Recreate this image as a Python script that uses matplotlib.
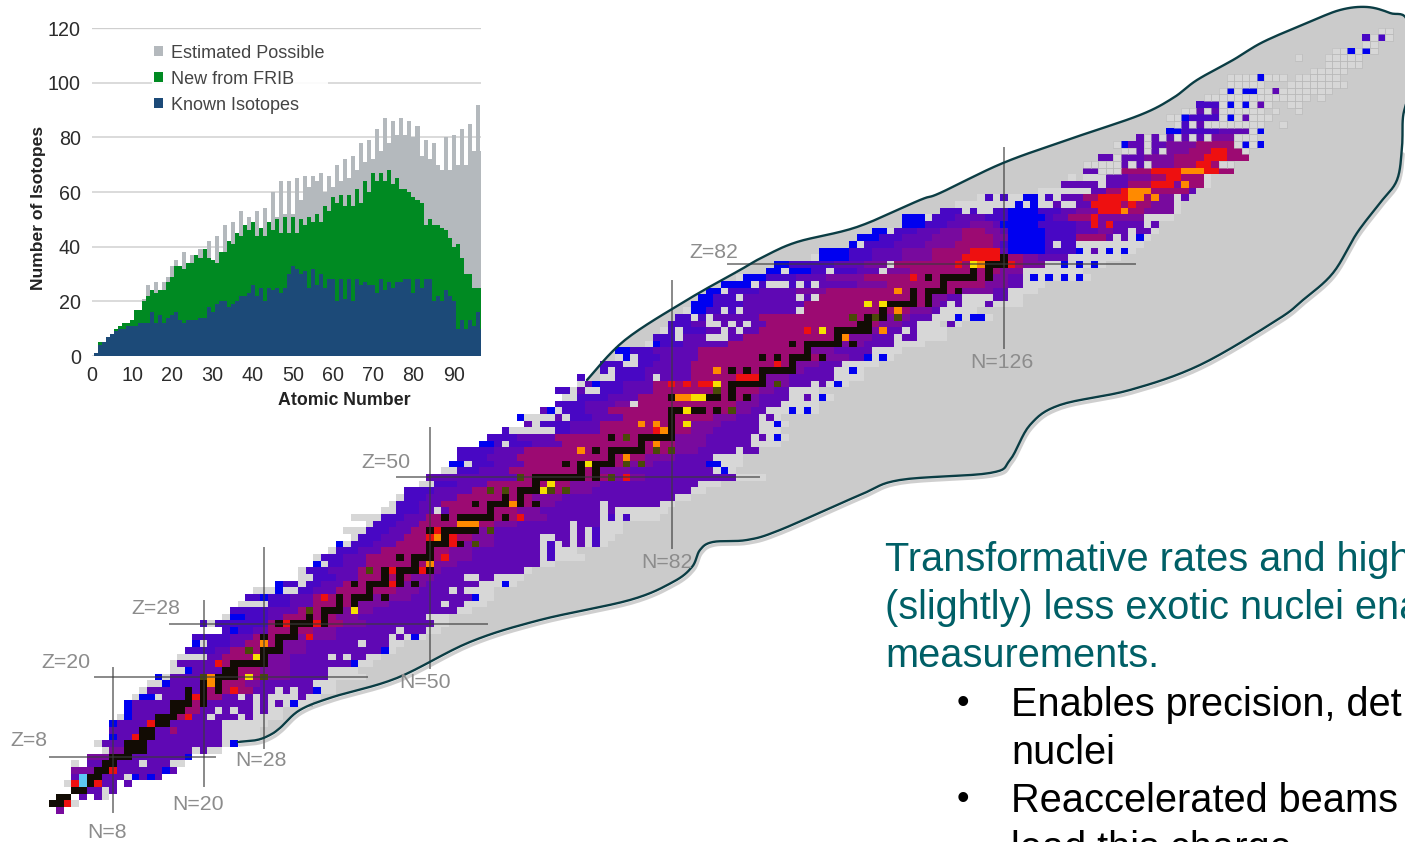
import numpy as np
import matplotlib
matplotlib.use("Agg")
import matplotlib.pyplot as plt
from matplotlib.colors import ListedColormap
from matplotlib.patches import Polygon, Rectangle

plt.rcParams['font.family'] = ['Liberation Sans', 'DejaVu Sans']

# ---------- inset data (isotopes per atomic number Z=1..97) ----------
Z_VALUES = list(range(1, 98))
KNOWN = [1,4,5,7,8,9,10,10,11,11,11,12,12,12,16,12,15,12,14,15,16,13,12,13,13,13,14,14,18,16,19,20,20,18,19,20,22,22,23,26,
         22,25,20,25,24,25,23,25,30,33,32,30,31,25,32,26,30,25,28,28,20,28,21,28,20,28,26,27,26,26,23,28,24,27,25,27,27,28,28,23,
         28,25,28,28,20,22,20,24,22,20,10,13,10,13,11,16,10]
FRIB = [1,5,5,6,8,10,11,12,12,13,17,17,20,22,24,23,24,24,27,29,33,33,32,34,34,37,36,39,36,35,34,38,38,42,41,45,44,48,46,49,
        44,47,44,49,46,50,45,51,45,51,45,50,48,51,49,52,49,55,53,58,56,59,55,59,55,61,56,64,60,67,64,67,64,68,63,65,61,61,60,58,
        57,56,48,50,48,48,47,46,43,40,41,36,30,30,25,25,25]
POSSIBLE = [1,5,5,6,8,10,11,12,12,13,17,17,21,26,24,27,24,27,29,33,35,33,38,34,37,37,39,36,42,35,44,38,48,42,49,45,53,48,51,49,
            53,47,54,49,60,51,64,52,64,52,65,57,66,62,66,64,67,60,66,62,70,64,72,65,73,68,78,71,79,72,83,75,87,78,86,81,87,81,86,80,
            84,73,79,72,78,70,68,80,68,81,70,83,70,85,75,92,75]
LEGEND = ["Estimated Possible", "New from FRIB", "Known Isotopes"]
INSET_XTICKS = [0,10,20,30,40,50,60,70,80,90]
INSET_YTICKS = [0,20,40,60,80,100,120]

# ---------- chart of nuclides: rows (Z, first N, colour runs) ----------
ROWS = [
(0,1,"p1"),(1,0,"v2 r1 g1"),(2,1,"v2 .1 v1 .1 v1 g1"),(3,3,"v4 g1 v1"),
(4,2,"g1 r1 a1 v1 r1 v2 .1 v1"),(5,3,"v1 a1 v5 g1 b1 v1 b1 v1"),(6,3,"p5 r1 v6 b1 v1"),
(7,3,"g1 .1 v7 g1 v3 g2"),(8,5,"p3 v10 b1"),(9,7,"g1 p2 v9 g1 v1 g2"),(10,6,"g1 v16 g1 b1"),
(11,8,"b1 v2 r1 v11 g5"),(12,8,"v8 m1 v6 g5"),(13,8,"b1 v4 r1 v9 g6"),
(14,9,"g1 b1 v6 m1 r1 v2 g1 v3 g1 v1 g4"),(15,10,"b1 v7 m2 v2 g1 v1 g1 v2 g1 v1 g2"),
(16,10,"b1 v8 m2 v6 g1 v1 g1 v1 g1 b1 g2"),(17,11,"g1 b2 g1 v4 r1 m3 v2 g1 v1 g1 v1 g4 v1 g2"),
(18,12,"g1 v7 m4 r1 m2 v3 g1 v1 g1 v2 b1 g2"),(19,13,"g2 b1 v5 o1 v1 m3 p2 v7 g3"),
(20,14,"b1 g1 v4 v1 o1 v1 m5 p4 v5 g5"),(21,16,"g2 b1 v4 m5 p4 v5 g4"),
(22,16,"g1 v5 r1 m5 p4 v8 b1 g2"),(23,17,"g4 v2 m6 p3 v5 g1 v1 g1 v2 g2"),
(24,18,"i4 v2 m7 p3 v10 b1 g1"),(25,19,"b1 g1 i3 v2 m5 p3 v7 g1 v3 g2"),
(26,19,"i5 v3 m5 p2 r1 p3 v7 g1 v1 g1 b1 g1"),(27,23,"i1 b1 i2 v2 m6 p3 v8 g1 v3 g2"),
(28,20,"i1 g1 i7 m10 p3 v9 g2"),(29,23,"g1 b2 i3 v2 m7 p3 v9 g3"),
(30,24,"i5 v4 m6 p4 v11 g2"),(31,25,"g4 i3 v3 m6 p4 v7 g1 v2 g3"),
(32,26,"i2 b1 i3 v3 m8 p5 v8 b1 g2"),(33,27,"g3 b1 g2 i2 v3 m8 p3 v4 g1 v1 g4"),
(34,30,"b1 i2 g1 i2 v3 m7 p4 v7 g3 b1 g1"),(35,33,"g2 i3 v3 m7 p3 v4 g2 v2 g4"),
(36,33,"g1 i3 v4 m8 p3 v11 g1"),(37,35,"b1 g1 i2 v3 m9 p3 v11 g2"),
(38,35,"g1 i3 v3 m11 p3 v9 g1 i1 g4"),(39,37,"g1 i3 v3 m9 p3 v9 g1 i1 g3"),
(40,38,"b1 g1 i3 v3 m9 p4 v6 g1 i1 g1 v1 g1 v1 g1 i1 g1"),
(41,40,"g1 i3 v3 m9 p3 v6 g2 v2 g1 v1 g1 i1 g2"),(42,39,"g3 i3 v3 m8 p3 v10 g1 v1 g1 i1 g3"),
(43,42,"g1 i3 v3 m5 r3 m2 p3 v7 g1 v3 g3"),(44,40,"g4 i3 v3 m13 p3 v7 g1 i1 g1 i1 g4"),
(45,44,"g2 i3 v2 g1 v1 m9 p3 v8 g1 v1 g7"),(46,45,"g1 i3 v3 m12 p3 v6 g1 v7 g2"),
(47,46,"g1 i3 v4 m10 p4 v15 g2"),(48,47,"i4 v5 m12 p4 v13 g2"),(49,49,"g2 i3 v4 m11 p4 v13 g3"),
(50,50,"v12 m13 p4 v12 g4"),(51,52,"g2 i3 v4 m12 p4 v11 g1 b1 g1"),(52,53,"b2 g1 i3 v4 m13 p4 v7 b2 g3"),
(53,54,"i4 v4 m14 r1 m2 p4 v5 g4"),(54,54,"i5 v4 m19 p4 v5 g1 v2"),(55,57,"b2 i1 g1 i3 v4 m12 r1 m2 p4 v6 g4"),
(56,58,"i4 v5 m16 p4 v6 g1 v1 g1 b1 g1"),(57,60,"i1 g6 i2 v4 m7 r2 m3 p3 v6 g3"),
(58,63,"v1 g1 i4 v4 m12 p4 v5 g2 b1 g1"),(59,62,"b1 g4 v1 g1 i3 v4 m12 p3 v3 g1 v1 g1"),
(60,65,"v1 b1 g1 i3 v3 m16 p3 v2 g3 b1 g1 b1 g1"),(61,67,"i4 v4 p2 g1 m13 p3 v3 g5"),
(62,68,"g2 i4 v4 m14 p2 v4 g2 v1 g1 b1 g1"),(63,67,"i2 g1 v1 g2 i3 v4 m14 p2 v2 g4"),
(64,70,"g1 v1 b1 i3 v4 m7 r2 m6 p3 v3 g1 v1 g1 b1 g1"),(65,70,"i1 .2 g2 i4 v1 g1 v4 m10 p3 v6 g4"),
(66,73,"i1 g1 i4 v6 m12 p3 v4 g2 b1 g1"),(67,73,"i3 g2 i2 v5 m14 p3 v3 g5"),
(68,75,"g1 b1 g1 i3 v5 m17 p3 v2 b1 g1 b1 g1"),(69,75,"b2 i3 v6 m15 p3 v5 g4"),
(70,79,"g1 b1 i3 v6 m15 p3 v4 g4"),(71,80,"i3 g1 v3 g3 v2 m14 p3 v3 g1 v2 g4"),
(72,81,"g1 i1 g1 i3 v2 g1 v1 g1 v2 m14 p3 v2 g1 v1 g4"),(73,82,"i3 v2 g2 v1 g1 v1 g1 v2 m15 p3 v2 g3 .1 v1 g1"),
(74,83,"i2 g1 i1 g1 v6 m17 p3 v3 g3 b1 g1 b2 g1"),(75,84,"g1 b2 i2 g1 i1 g1 v7 g1 m14 p3 v1 g5"),
(76,85,"b3 i4 v8 m16 p2 v1 g1 v1 g3 v1 g4"),(77,86,"b2 i3 g1 v7 g1 v1 g1 m14 p3 v2 g4 v2 g2"),
(78,87,"b2 g1 i4 v5 p4 m18 p4 v2 g4"),(79,89,"b4 g1 i1 g3 i1 g1 i1 g1 v5 p4 m13 p3 v2 g3"),
(80,91,"g1 b3 i4 v4 p5 m12 m5 p2 v2 g1 b1 g1 b1 g1 b1 g1 b1 g1"),
(81,95,"b2 g1 b3 i2 g1 i3 v3 g1 p3 m12 p3 g8"),
(82,96,"b2 i6 v4 p3 g1 m8 r1 m2 r1 m3 r1 m1 p3 g2 b1 g1 b1 g1 b1 g1"),
(83,101,"g1 b4 i3 v4 p4 m4 r5 m3 p2 v4 g7"),
(84,102,"b4 i3 v4 p4 m5 r4 v1 b5 i4 b1 g1 v1 g1 b1 g1 b1 g1"),
(85,106,"b1 g1 i4 v4 p4 m5 p1 i1 b5 i1 g1 i2 g9"),
(86,107,"b3 i3 v4 p4 m4 p2 b5 i3 i1 m4 v1 g1 v1 g1 b1 g1"),
(87,109,"b2 g1 i3 v3 p3 m3 p2 v1 b5 i3 i1 v3 p2 v2 g1 v2 g1"),
(88,113,"b3 i3 v3 p3 v1 b5 i4 i1 v2 r1 p1 r1 v4 g1 v1"),
(89,113,"b3 g1 i3 v4 i3 b5 i1 v2 m3 r1 p6 g4"),
(90,118,"i3 g1 i1 g2 i2 b4 i3 v2 p3 r3 o1 m2 p4 g1"),
(91,120,"g8 b1 g1 b1 g2 v1 g2 v2 r4 m1 r1 m2 p3 g1"),
(92,123,"g1 i1 g1 i1 g2 b2 g1 i1 g1 v3 m2 r4 o2 m1 o1 p2 g1 v1"),
(93,131,"g7 v2 m2 r1 o3 m5 v1"),(94,134,"v5 g1 v3 m3 r3 p1 o1 m2 g1"),
(95,135,"g1 .1 g3 v3 p3 m2 r2 m3 g1"),(96,137,"v2 g3 m4 r4 o3 r2 m2"),
(97,137,"g5 v1 g1 v1 g1 p3 m3 r2 m1 g2"),(98,139,"v2 g1 v3 p4 m4 r3 m3"),
(99,142,"g2 v1 g1 v1 g1 p3 m3 r2 m2 g1"),(100,141,"g1 b1 v2 g1 v2 p4 m5 g1 b1 g1 b1"),
(101,144,"v1 g1 v1 g1 v1 g1 v1 g1 v1 g1 p3 g3"),(102,148,"b2 i5 v3 v1 g1 b1"),
(103,149,"g1 i1 g1 v1 g8 .2 g1"),(104,148,"g2 b1 i4 g1 b1 g1 v1 g3"),
(105,150,"g2 v1 g1 v1 g6 .1 g1 .2 g1"),(106,152,"i3 g1 b1 g1 b1 g1 v1 g1 .2 g2"),
(107,153,"g14 .1 g1"),(108,155,"g1 b1 g1 b2 g2 v1 g7"),(109,156,"g5 .3 g8"),
(110,156,"g4 b1 g3 .1 g6"),(111,167,"g5"),(112,169,"g5"),(113,165,"g1 .3 g5"),
(114,170,"g2 b1 g1 b1 g1"),(115,174,"g2"),(116,174,"i1 g1 i1 g1"),(117,176,"g2"),
]

STABLE = {1:[0,1],2:[1,2],3:[3,4],4:[5],5:[5,6],6:[6,7],7:[7,8],8:[8,9,10],9:[10,11,12],10:[10,11,12],11:[12,13],12:[12,13],
13:[14,15],14:[14,15,16],15:[16,17],16:[16,17,18,20],17:[18,20],18:[18,20,22],19:[20,21,22],20:[20,22,23,24,26,28],21:[23,24],
22:[24,25,26,27,28],23:[27,28],24:[26,28,29,30],25:[30],26:[28,30,31,32],27:[32],28:[30,31,32,33,34,36],29:[34,36],
30:[34,36,37,38,40],31:[38,40],32:[38,40,41,42,44],33:[42],34:[40,42,43,44,46,48],35:[44,46],36:[44,46,47,48,49,50],
37:[48,50],38:[46,48,49,50],39:[50],40:[50,51,52,54,56],41:[52],42:[50,52,53,54,55,56,58],44:[52,54,55,56,57,58,60],
45:[58],46:[56,58,59,60,62,64],47:[60,62],48:[58,60,62,63,64,65,66,68],49:[64,66],50:[62,64,65,66,67,68,69,70,72,74],
51:[70,72],52:[68,70,71,72,73,74,76,78],53:[74],54:[70,72,74,75,76,77,78,80,82],55:[78],56:[74,76,78,79,80,81,82],
57:[81,82],58:[78,80,82,84],59:[82],60:[82,83,84,85,86,88,90],62:[82,85,86,87,88,90,92],63:[88,90],64:[88,90,91,92,93,94,96],
65:[94],66:[90,92,94,95,96,97,98],67:[98],68:[94,96,98,99,100,102],69:[100],70:[98,100,101,102,103,104,106],71:[104,105],
72:[102,104,105,106,107,108],73:[107,108],74:[106,108,109,110,112],75:[110,112],76:[108,110,111,112,113,114,116],
77:[114,116],78:[114,116,117,118,120],79:[118],80:[116,118,119,120,121,122,124],81:[122,124],82:[122,124,125,126],83:[126]}

YELLOW_CELLS = [(26,20),(27,23),(40,30),(65,48),(66,49),(71,52),(84,58),(84,60),(85,62),(86,62),(88,64),(108,76),(110,76),(102,72),(122,82)]
ORANGE_CELLS = [(21,20),(21,19),(28,25),(50,37),(51,41),(61,46),(54,43),(55,43),(56,43),(81,57),(83,62),(84,62),(88,66),
                (76,53),(80,55),(112,78),(105,71),(112,75),(110,72),(123,82),(70,54),(78,58),(80,58)]
RED_CELLS = [(19,17),(18,14),(22,22),(24,18),(34,26),(31,28),(36,32),(45,36),(45,34),(50,41),(53,41),(53,40),(52,38),(62,44),
             (80,57),(96,67),(76,50),(114,80),(120,82),(124,83),(125,83),(124,84),(125,84),(84,64),(86,64),(92,65),(93,65),
             (91,65),(100,72),(35,28),(49,36),(51,42),(82,64)]
DARK_CELLS = [(20,20),(28,20),(26,24),(34,30),(42,36),(56,40),(58,42),(58,48),(60,48),(62,50),(66,48),(68,48),(74,50),(76,52),
              (78,52),(76,56),(80,54),(82,54),(88,63),(90,60),(96,64),(106,74),(109,74),(112,74)]

MAGIC_N = [(8,-0.3,21.4),(20,3.6,31.4),(28,9.4,39.4),(50,21.4,57.4),(82,39.4,79.5),(126,69.4,99.4)]
MAGIC_Z = [(8,-0.3,21.5),(20,5.6,41.6),(28,15.5,57.5),(50,45.6,93.6),(82,89.5,143.4)]

CELL_COLOURS = {'g':'#d7d7d7','b':'#0000f0','i':'#4807c4','v':'#5f08b4','p':'#780a9e','m':'#9c0a72','r':'#ee1010',
                'a':'#5cc8f5','k':'#120c04','y':'#f6e000','d':'#4a4a08','o':'#ff8a00'}

# Outline of the grey "possible" region, in picture pixels
OUTLINE_X = [238,257,270,280,300,333,397,470,540,630,673,692,700,713,747,780,860,900,990,1010,1030,1060,1130,1200,1277,1303,1333,1357,1380,1397,1402,1403,1408,1408,1390,1367,1340,1307,1263,1233,1197,1173,1140,1073,1003,940,920,857,797,763,740,687,625,587]
OUTLINE_Y = [742,740,735,728,710,697,678,642,620,600,582,567,550,542,540,530,495,480,473,460,425,405,390,365,320,300,273,233,203,180,147,117,90,23,13,7,10,23,42,60,80,98,115,138,163,193,200,227,242,257,270,300,340,380]

LABELS = [("Z=82",714,252),("N=126",1002,363),("Z=50",386,462),("N=82",667,563),("Z=28",156,608),("N=50",425,683),
          ("Z=20",66,662),("N=28",261,761),("N=20",198,804),("Z=8",29,741),("N=8",107,832)]

HEAD_LINES = ["Transformative rates and high", "(slightly) less exotic nuclei ena", "measurements."]
BULLET_LINES = [("Enables precision, det", True), ("nuclei", False), ("Reaccelerated beams", True), ("lead this charge", False)]

W, H = 1405, 842
fig = plt.figure(figsize=(W/100, H/100), dpi=100, facecolor='white')

def smooth(x, y, k=8):
    """Catmull-Rom curve through the outline points."""
    p = np.column_stack([x, y]).astype(float)
    p = np.vstack([p[0], p, p[-1]])
    out = []
    for i in range(1, len(p)-2):
        t = np.linspace(0, 1, k, endpoint=False)[:, None]
        out.append(0.5*((2*p[i]) + (-p[i-1]+p[i+1])*t + (2*p[i-1]-5*p[i]+4*p[i+1]-p[i+2])*t**2
                        + (-p[i-1]+3*p[i]-3*p[i+1]+p[i+2])*t**3))
    out.append(p[-2:-1])
    return np.vstack(out)

curve = smooth(OUTLINE_X, OUTLINE_Y)

# pixel overlay axes
px = fig.add_axes([0,0,1,1], zorder=1)
px.set_xlim(0,W); px.set_ylim(H,0); px.axis('off')
px.add_patch(Polygon(curve, closed=True, fc='#cbcbcb', ec='none'))

# chart of nuclides axes
ax = fig.add_axes([0,0,1,1], zorder=2)
ax.patch.set_alpha(0)
ax.set_xlim(-6.967,179.13); ax.set_ylim(-4.76,121.67); ax.axis('off')

keys = list(CELL_COLOURS)
grid = np.full((118,180), np.nan)
for z,start,runs in ROWS:
    n = start
    for tok in runs.split():
        c, cnt = tok[0], int(tok[1:])
        if c != '.':
            grid[z, n:n+cnt] = keys.index(c)
        n += cnt
for z,ns in STABLE.items():
    for n in ns:
        grid[z,n] = keys.index('k')
for lst,c in ((RED_CELLS,'r'),(ORANGE_CELLS,'o'),(YELLOW_CELLS,'y'),(DARK_CELLS,'d')):
    for n,z in lst:
        grid[z,n] = keys.index(c)
cmap = ListedColormap([CELL_COLOURS[k] for k in keys])
ax.pcolormesh(np.arange(181)-0.5, np.arange(119)-0.5, np.ma.masked_invalid(grid), cmap=cmap, vmin=-0.5, vmax=len(keys)-0.5, shading='flat', linewidth=0, zorder=2)

# faint outlines on the far, unreached cells
for z in range(96,118):
    for n in range(180):
        if grid[z,n] == keys.index('g'):
            ax.add_patch(Rectangle((n-0.5,z-0.5),1,1,fc='none',ec='#b8b8b8',lw=0.4,zorder=2.5))

for n,a,b in MAGIC_N:
    ax.plot([n,n],[a,b], color='#3a3a3a', alpha=0.6, lw=1.4, zorder=3)
for z,a,b in MAGIC_Z:
    ax.plot([a,b],[z,z], color='#3a3a3a', alpha=0.6, lw=1.4, zorder=3)

top = fig.add_axes([0,0,1,1], zorder=3)
top.patch.set_alpha(0); top.set_xlim(0,W); top.set_ylim(H,0); top.axis('off')
n_low = 30*8
top.plot(curve[:n_low,0]+1.5, curve[:n_low,1]+3, color='#777777', alpha=0.35, lw=2.5, solid_capstyle='round')
top.plot(curve[:,0], curve[:,1], color='#0b3d44', lw=1.7, solid_joinstyle='round', solid_capstyle='round')
for s,x,y in LABELS:
    top.text(x,y,s,color='#8c8c8c',fontsize=15.3,ha='center',va='center')

for i,s in enumerate(HEAD_LINES):
    top.text(885,560+48*i,s,color='#005f66',fontsize=28.6,ha='left',va='center',clip_on=True)
for i,(s,b) in enumerate(BULLET_LINES):
    y = 705+48*i
    if b:
        top.text(963,y-1,'\u2022',color='black',fontsize=26,ha='center',va='center',clip_on=True)
    top.text(1011,y,s,color='black',fontsize=28.6,ha='left',va='center',clip_on=True)

# inset
top.add_patch(Rectangle((20,10),461,408,fc='white',ec='none',zorder=5))
ins = fig.add_axes([92/W, 1-356/H, (481-92)/W, (356-28)/H], zorder=4)
ins.set_xlim(0,96.8); ins.set_ylim(0,120)
ins.patch.set_alpha(0)
ins.set_yticks(INSET_YTICKS); ins.set_xticks(INSET_XTICKS)
ins.grid(axis='y', color='#d4d4d4', lw=1.2, zorder=0)
ins.axhline(120, color='#b8b8b8', lw=1.6, zorder=1)
ins.bar(Z_VALUES, POSSIBLE, width=1.0, color='#b4b9bd', lw=0, zorder=2, label=LEGEND[0])
ins.bar(Z_VALUES, FRIB, width=1.0, color='#008a22', lw=0, zorder=3, label=LEGEND[1])
ins.bar(Z_VALUES, KNOWN, width=1.0, color='#1c4a78', lw=0, zorder=4, label=LEGEND[2])
for s in ins.spines.values(): s.set_visible(False)
ins.tick_params(length=0, labelsize=14.2, labelcolor='#2c2c2c', pad=7)
ins.tick_params(axis='y', pad=8)
ins.set_xlabel("Atomic Number", fontsize=12.8, fontweight='bold', color='#222222', labelpad=5, x=0.649)
ins.set_ylabel("Number of Isotopes", fontsize=12.6, fontweight='bold', color='#222222', labelpad=1, y=0.452)
h,l = ins.get_legend_handles_labels()
ins.legend(h,l,loc='upper left',bbox_to_anchor=(0.13,0.985),frameon=True,facecolor='white',edgecolor='none',framealpha=0.9,
           fontsize=13,labelcolor='#444444',handlelength=0.5,handleheight=0.5,handletextpad=0.45,labelspacing=0.5,borderpad=0.15)

fig.savefig('out.png', dpi=100)
